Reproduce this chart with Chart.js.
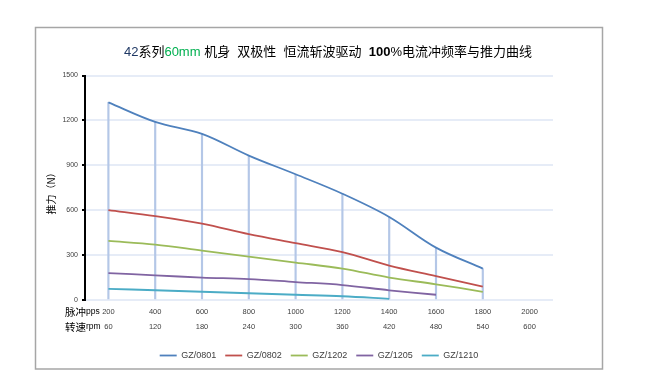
<!DOCTYPE html>
<html><head><meta charset="utf-8">
<script src="https://cdn.jsdelivr.net/npm/chart.js@4"></script>
<style>html,body{margin:0;padding:0;background:#fff;overflow:hidden}</style>
</head><body>
<canvas id="c" width="646" height="381"></canvas>
<script>
// ---- data ----
const pulses = ['200','400','600','800','1000','1200','1400','1600','1800','2000'];
const speeds = ['60','120','180','240','300','360','420','480','540','600'];
const gz0801 = [1320,1190,1110,965,840,710,555,350,210,null];
const gz0802 = [600,560,510,440,380,320,230,160,90,null];
const gz1202 = [395,370,330,290,250,210,150,105,55,null];
const gz1205 = [180,165,150,140,120,100,65,35,null,null];
const gz1210 = [75,65,55,45,35,25,8,null,null,null];
const seriesNames = ['GZ/0801','GZ/0802','GZ/1202','GZ/1205','GZ/1210'];
const yMin = 0, yMax = 1500, yStep = 300;

const colors = ['#4f81bd','#c0504d','#9bbb59','#8064a2','#4bacc6'];
const seriesData = [gz0801, gz0802, gz1202, gz1205, gz1210];
const LATIN = "'Liberation Sans','Noto Sans CJK SC',sans-serif";
const CJK = "'Noto Sans CJK SC','Liberation Sans',sans-serif";

const lineSets = seriesNames.map((n,i)=>({
  type:'line', label:n, data:seriesData[i],
  borderColor:colors[i], backgroundColor:colors[i],
  borderWidth:1.8, pointRadius:0, tension:0.35, order:0, spanGaps:false
}));
const dropSet = {
  type:'bar', label:'drop', data:gz0801,
  backgroundColor:'#b4c7e7', barThickness:1.5, order:1
};

function drawMixed(ctx, x, y, parts){
  parts.forEach(p=>{ ctx.font=p.f; ctx.fillText(p.t,x,y); x+=ctx.measureText(p.t).width; });
}

const decor = {
  id:'decor',
  beforeDraw(chart){
    const ctx = chart.ctx;
    ctx.save();
    ctx.fillStyle='#fff'; ctx.fillRect(0,0,chart.width,chart.height);
    ctx.strokeStyle='#a6a6a6'; ctx.lineWidth=1.5;
    ctx.strokeRect(35.5,27.5,567,341.5);
    ctx.restore();
  },
  afterDraw(chart){
    const ctx = chart.ctx;
    ctx.save();
    // title
    const segs = [
      {t:'42', c:'#1f3864', b:false},
      {t:'系列', c:'#000', b:false},
      {t:'60mm', c:'#00b050', b:false},
      {t:' 机身  双极性  恒流斩波驱动  ', c:'#000', b:false},
      {t:'100', c:'#000', b:true},
      {t:'%电流冲频率与推力曲线', c:'#000', b:false}
    ];
    const fs = 13;
    let total = 0;
    segs.forEach(s=>{ ctx.font=(s.b?'bold ':'')+fs+'px '+LATIN; s.w=ctx.measureText(s.t).width; total+=s.w; });
    let x = 328 - total/2;
    ctx.textBaseline='middle'; ctx.textAlign='left';
    segs.forEach(s=>{ ctx.font=(s.b?'bold ':'')+fs+'px '+LATIN; ctx.fillStyle=s.c; ctx.fillText(s.t,x,52); x+=s.w; });
    // y title
    ctx.save();
    ctx.translate(51,191); ctx.rotate(-Math.PI/2);
    ctx.font='10px '+CJK; ctx.fillStyle='#000'; ctx.textAlign='center';
    ctx.fillText('推力（N）',0,0);
    ctx.restore();
    // x row headers
    ctx.fillStyle='#000'; ctx.textAlign='left'; ctx.textBaseline='middle';
    drawMixed(ctx, 65, 312, [{t:'脉冲', f:'10.5px '+CJK},{t:'pps', f:'8.5px '+LATIN}]);
    drawMixed(ctx, 65, 327, [{t:'转速', f:'10.5px '+CJK},{t:'rpm', f:'8.5px '+LATIN}]);
    ctx.restore();
  }
};

new Chart(document.getElementById('c'),{
  type:'line',
  data:{ labels:pulses, datasets:[...lineSets, dropSet] },
  options:{
    responsive:false, animation:false, devicePixelRatio:1,
    layout:{ padding:{ top:75.5, right:93, bottom:11, left:0 } },
    plugins:{
      title:{display:false}, tooltip:{enabled:false},
      legend:{
        display:true, position:'bottom', fullSize:false,
        labels:{
          filter:(item)=>item.text!=='drop',
          usePointStyle:true, pointStyle:'line', pointStyleWidth:17, boxHeight:9,
          padding:9, color:'#404040', font:{size:9, family:LATIN}
        }
      }
    },
    scales:{
      x:{
        type:'category', offset:true,
        grid:{display:false, drawTicks:false},
        border:{display:false},
        ticks:{
          padding:4, color:'#404040', maxRotation:0, autoSkip:false,
          font:{size:7.5, family:LATIN, lineHeight:2},
          callback:(v,i)=>[pulses[i], speeds[i]]
        },
        afterFit(s){ s.height = 42; }
      },
      y:{
        min:yMin, max:yMax,
        grid:{color:'#e6ecf7', lineWidth:2, tickLength:3, tickColor:'#000', tickWidth:2},
        border:{display:true, color:'#000', width:2},
        ticks:{stepSize:yStep, padding:4, color:'#404040',
          font:{size:7, family:"'Liberation Sans Narrow','Liberation Sans',sans-serif"},
          callback:(v)=>String(v)},
        afterFit(s){ s.width = 85; }
      }
    }
  },
  plugins:[decor]
});
</script>
</body></html>
